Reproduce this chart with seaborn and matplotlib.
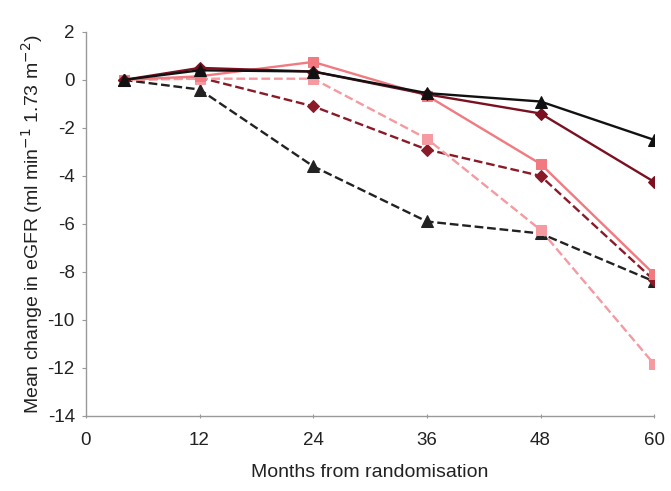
import matplotlib
matplotlib.use("Agg")
import matplotlib.pyplot as plt
import seaborn as sns
import pandas as pd

months = [4, 12, 24, 36, 48, 60]
series_names = ["A solid", "B solid", "C solid", "A dashed", "B dashed", "C dashed"]
a_solid = [0.0, 0.4, 0.35, -0.55, -0.9, -2.5]
b_solid = [0.0, 0.5, 0.35, -0.6, -1.4, -4.25]
c_solid = [0.0, 0.15, 0.75, -0.65, -3.5, -8.1]
a_dashed = [0.0, -0.4, -3.6, -5.9, -6.4, -8.4]
b_dashed = [0.0, 0.1, -1.1, -2.9, -4.0, -8.35]
c_dashed = [0.0, 0.05, 0.05, -2.45, -6.25, -11.85]
values = [a_solid, b_solid, c_solid, a_dashed, b_dashed, c_dashed]

colors = ["#111111", "#7a1020", "#f07a80", "#222222", "#8a1a28", "#f59aa0"]
markers = ["^", "D", "s", "^", "D", "s"]
styles = ["-", "-", "-", "--", "--", "--"]
msizes = [8, 6.5, 7.5, 8, 6.5, 7.5]

sns.set_style("ticks")
plt.rcParams["font.family"] = ["Liberation Sans", "DejaVu Sans"]
plt.rcParams["axes.unicode_minus"] = False

fig = plt.figure(figsize=(6.71, 4.91), dpi=100)
ax = fig.add_axes([0.128, 0.153, 0.847, 0.782])

order = [3, 4, 5, 2, 1, 0]
for i in order:
    df = pd.DataFrame({"month": months, "value": values[i]})
    sns.lineplot(data=df, x="month", y="value", ax=ax, color=colors[i],
                 marker=markers[i], markersize=msizes[i],
                 linewidth=1.7, markeredgecolor=colors[i])
    ax.lines[-1].set_linestyle(styles[i])

ax.set_xlim(0, 60)
ax.set_ylim(-14, 2)
ax.set_xticks([0, 12, 24, 36, 48, 60])
ax.set_yticks(list(range(-14, 3, 2)))
ax.tick_params(axis="both", labelsize=13.5, length=3, color="#999999", labelcolor="#222222")
ax.tick_params(axis="x", direction="inout", pad=10)
ax.tick_params(axis="y", pad=5)
for s in ["top", "right"]:
    ax.spines[s].set_visible(False)
for s in ["left", "bottom"]:
    ax.spines[s].set_color("#999999")
    ax.spines[s].set_linewidth(1.0)
ax.set_xlabel("Months from randomisation", fontsize=14, color="#222222", labelpad=11)
ax.set_ylabel("Mean change in eGFR (ml min$^{-1}$ 1.73 m$^{-2}$)", fontsize=14,
              color="#222222", labelpad=2)

fig.savefig("out.png", dpi=100)
